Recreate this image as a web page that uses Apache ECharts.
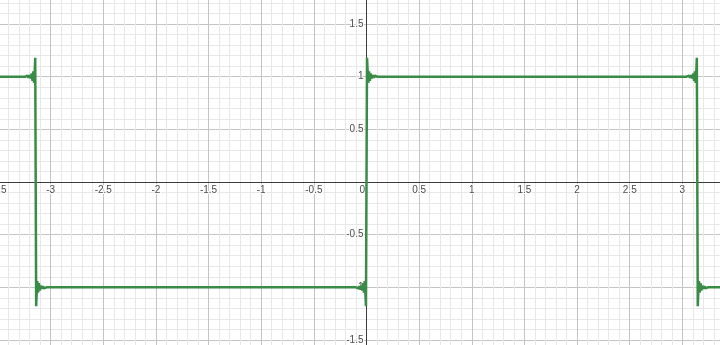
<!DOCTYPE html>
<html>
<head>
<meta charset="utf-8">
<script src="https://cdn.jsdelivr.net/npm/echarts@6/dist/echarts.min.js"></script>
<style>
  html, body { margin: 0; padding: 0; background: #fff; }
  #chart { width: 720px; height: 345px; }
</style>
</head>
<body>
<div id="chart"></div>
<script>
// axis ranges (grid runs past the window edges, like the graph paper view)
var xRange = [-3.5, 3.5];
var yRange = [-2, 2];
var majorStep = 0.5;

// square wave, with the Gibbs spikes and ringing at the jumps
var wave = [
  [-3.5, 1], [-3.24, 1], [-3.22, 1.01], [-3.21, 0.99], [-3.2, 1.015], [-3.19, 0.985],
  [-3.18, 1.03], [-3.172, 0.96], [-3.164, 1.05], [-3.157, 0.94], [-3.15, 1.07],
  [-3.146, 1.18], [-3.137, -1.18], [-3.133, -1.07], [-3.126, -0.94], [-3.119, -1.05],
  [-3.111, -0.96], [-3.103, -1.03], [-3.093, -0.985], [-3.083, -1.015], [-3.073, -0.99],
  [-3.063, -1.01], [-3.04, -1],
  [-0.1, -1], [-0.08, -1.01], [-0.07, -0.99], [-0.06, -1.015], [-0.05, -0.985],
  [-0.04, -1.03], [-0.032, -0.96], [-0.024, -1.05], [-0.017, -0.94], [-0.01, -1.07],
  [-0.005, -1.18], [0.005, 1.18], [0.01, 1.07], [0.017, 0.94], [0.024, 1.05],
  [0.032, 0.96], [0.04, 1.03], [0.05, 0.985], [0.06, 1.015], [0.07, 0.99],
  [0.08, 1.01], [0.1, 1],
  [3.04, 1], [3.063, 1.01], [3.073, 0.99], [3.083, 1.015], [3.093, 0.985],
  [3.103, 1.03], [3.111, 0.96], [3.119, 1.05], [3.126, 0.94], [3.133, 1.07],
  [3.137, 1.18], [3.146, -1.18], [3.15, -1.07], [3.157, -0.94], [3.164, -1.05],
  [3.172, -0.96], [3.18, -1.03], [3.19, -0.985], [3.2, -1.015], [3.21, -0.99],
  [3.22, -1.01], [3.24, -1], [3.5, -1]
];

var chart = echarts.init(document.getElementById('chart'));

// grid placement in px: origin sits at (366.5, 182), 105.3 px per unit
var gridLeft = -2.05, gridRight = -15.05, gridTop = -28.6, gridBottom = -47.6;

var labelStyle = {
  fontSize: 10,
  fontFamily: 'Arial, "Liberation Sans", sans-serif',
  color: '#4a4a4a',
  textBorderColor: '#fff',
  textBorderWidth: 2
};

chart.setOption({
  animation: false,
  backgroundColor: '#fff',
  grid: {
    left: gridLeft, right: gridRight, top: gridTop, bottom: gridBottom,
    containLabel: false,
    outerBoundsMode: 'none'
  },
  xAxis: {
    type: 'value',
    position: 'bottom',
    min: xRange[0],
    max: xRange[1],
    interval: majorStep,
    // move the axis up from the grid bottom to y = 0
    offset: -(345 - gridBottom - 182),
    axisLine: { onZero: false, lineStyle: { color: '#3c3c3c', width: 1 } },
    axisTick: { show: false },
    axisLabel: Object.assign({}, labelStyle, {
      margin: 3,
      formatter: function (v) { return v === 0 ? '0   ' : String(v); }
    }),
    splitLine: { show: true, lineStyle: { color: '#c4c4c4', width: 1 } },
    minorTick: { show: false, splitNumber: 5 },
    minorSplitLine: { show: true, lineStyle: { color: '#e8e8e8', width: 1 } }
  },
  yAxis: {
    type: 'value',
    position: 'left',
    min: yRange[0],
    max: yRange[1],
    interval: majorStep,
    // move the axis right from the grid left edge to x = 0
    offset: -(366.5 - gridLeft),
    axisLine: { onZero: false, lineStyle: { color: '#3c3c3c', width: 1 } },
    axisTick: { show: false },
    axisLabel: Object.assign({}, labelStyle, {
      margin: 3,
      formatter: function (v) { return v === 0 ? '' : String(v); }
    }),
    splitLine: { show: true, lineStyle: { color: '#c4c4c4', width: 1 } },
    minorTick: { show: false, splitNumber: 5 },
    minorSplitLine: { show: true, lineStyle: { color: '#e8e8e8', width: 1 } }
  },
  series: [
    {
      type: 'line',
      data: wave,
      showSymbol: false,
      lineStyle: { color: '#388c46', width: 2.5 },
      z: 5
    }
  ]
});
</script>
</body>
</html>
